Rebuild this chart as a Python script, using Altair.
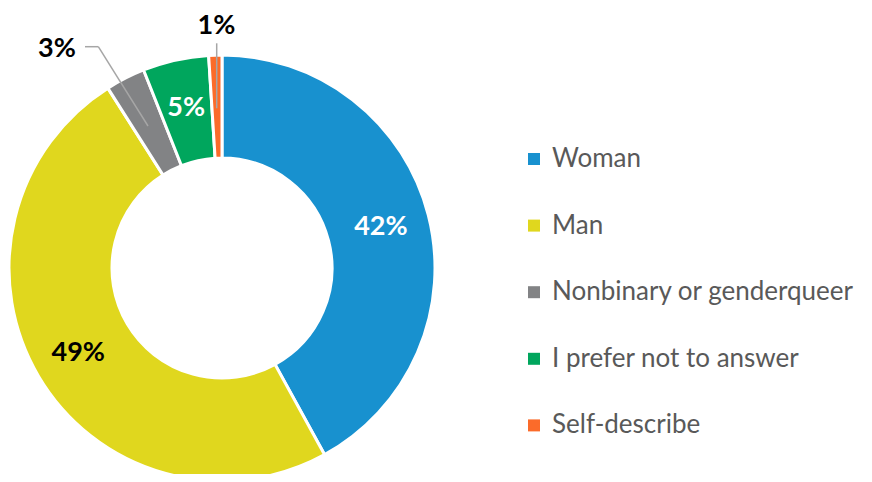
import altair as alt
import pandas as pd

categories = ["Woman", "Man", "Nonbinary or genderqueer", "I prefer not to answer", "Self-describe"]
values = [42, 49, 3, 5, 1]
labels = ["42%", "49%", "3%", "5%", "1%"]
colors = ["#1891CF", "#E0D71E", "#828385", "#00A65D", "#FB6B2A"]

df = pd.DataFrame({"category": categories, "value": values, "label": labels,
                   "idx": list(range(len(categories)))})

FONT = "Lato"
CX, CY = 214, 260

base = alt.Chart(df).encode(
    theta=alt.Theta("value:Q", stack=True),
    order=alt.Order("idx:Q"),
)

arcs = base.mark_arc(innerRadius=110, outerRadius=213, stroke="white", strokeWidth=3).encode(
    color=alt.Color(
        "category:N",
        scale=alt.Scale(domain=categories, range=colors),
        sort=categories,
        legend=alt.Legend(
            title=None, orient="none", legendX=513, legendY=138,
            symbolType="square", symbolSize=144, symbolStrokeWidth=0,
            labelFont=FONT, labelFontSize=26, labelColor="#595959",
            labelOffset=5, rowPadding=40.6, padding=0, labelLimit=400,
        ),
    ),
    x=alt.value(CX), y=alt.value(CY),
)

white_txt = base.transform_calculate(
    t="(datum.category == 'Woman' || datum.category == 'I prefer not to answer') ? datum.label : ''"
).mark_text(radius=164, font=FONT, fontSize=27, fontWeight="bold", color="white").encode(
    text="t:N", x=alt.value(CX), y=alt.value(CY)
)

black_txt = base.transform_calculate(
    t="datum.category == 'Man' ? datum.label : ''"
).mark_text(radius=167, font=FONT, fontSize=27, fontWeight="bold", color="black").encode(
    text="t:N", x=alt.value(CX), y=alt.value(CY)
)

lbl3 = alt.Chart(df).transform_filter(alt.datum.category == "Nonbinary or genderqueer").mark_text(
    font=FONT, fontSize=27, fontWeight="bold", color="black"
).encode(text="label:N", x=alt.value(49), y=alt.value(41))

lbl1 = alt.Chart(df).transform_filter(alt.datum.category == "Self-describe").mark_text(
    font=FONT, fontSize=27, fontWeight="bold", color="black"
).encode(text="label:N", x=alt.value(208.5), y=alt.value(18))

one = alt.Chart(df).transform_filter(alt.datum.idx == 0)
lc = "#A6A6A6"
lead3a = one.mark_rule(color=lc, strokeWidth=1.5).encode(
    x=alt.value(77), x2=alt.value(90.3), y=alt.value(38.7), y2=alt.value(38.7))
lead3b = one.mark_rule(color=lc, strokeWidth=1.5).encode(
    x=alt.value(90.3), x2=alt.value(140), y=alt.value(38.7), y2=alt.value(118))
lead1 = one.mark_rule(color=lc, strokeWidth=1.5).encode(
    x=alt.value(208.7), x2=alt.value(208.7), y=alt.value(35.3), y2=alt.value(100.3))

chart = alt.layer(arcs, white_txt, black_txt, lead3a, lead3b, lead1, lbl3, lbl1).properties(
    width=856, height=466, padding=0, autosize=alt.AutoSizeParams(type="none")
).configure_view(stroke=None)

chart.save("out.html", embed_options={"renderer": "svg", "actions": False})
